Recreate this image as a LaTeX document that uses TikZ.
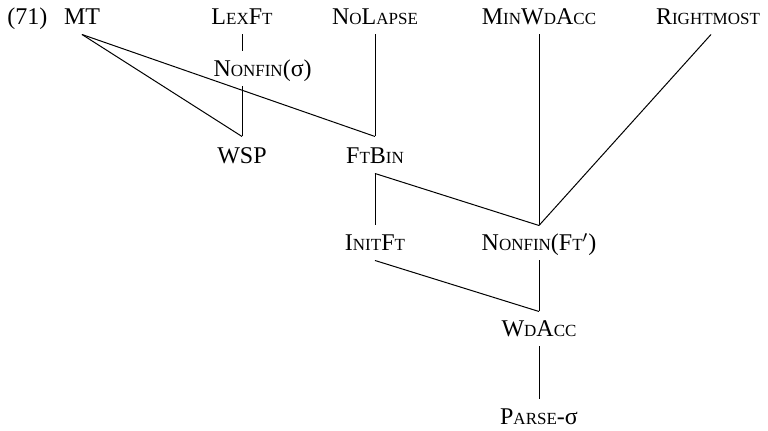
\documentclass[tikz,border=0pt]{standalone}
\usepackage{fontspec}
\setmainfont{Liberation Serif}
\newcommand{\sce}[1]{{\fontsize{8.5pt}{10pt}\selectfont #1}}
\begin{document}
\begin{tikzpicture}[x=0.5pt, y=-0.5pt, line width=0.5pt,
                con/.style={inner xsep=0pt, inner ysep=4.5pt, text height=8pt, text depth=0pt, font=\fontsize{12pt}{14pt}\selectfont}]
                \useasboundingbox (0,0) rectangle (768,431);
                % top row
                \node[con, anchor=base west] (exnum) at (7,25) {(71)};
                \node[con, anchor=base] (mt) at (82,25) {MT};
                \node[con, anchor=base] (lexft) at (242,25) {L\sce{EX}F\sce{T}};
                \node[con, anchor=base] (nolapse) at (375,25) {N\sce{O}L\sce{APSE}};
                \node[con, anchor=base] (minwdacc) at (539,25) {M\sce{IN}W\sce{D}A\sce{CC}};
                \node[con, anchor=base] (rightmost) at (708,25) {R\sce{IGHTMOST}};
                \node[con, anchor=base west] (nonfinsyl) at (213,77) {N\sce{ONFIN}(σ)};
                % lower rows
                \node[con, anchor=base] (wsp) at (242,164) {WSP};
                \node[con, anchor=base] (ftbin) at (375,164) {F\sce{T}B\sce{IN}};
                \node[con, anchor=base] (initft) at (375,251) {I\sce{NIT}F\sce{T}};
                \node[con, anchor=base] (nonfinft) at (539,251) {N\sce{ONFIN}(F\sce{T}$'$)};
                \node[con, anchor=base] (wdacc) at (539,337) {W\sce{D}A\sce{CC}};
                \node[con, anchor=base] (parse) at (539,425) {P\sce{ARSE}-σ};
                % rankings
                \draw (mt.south) -- ([yshift=1pt]wsp.north);
                \draw (mt.south) -- ([yshift=1pt]ftbin.north);
                \draw (lexft.south) -- (lexft.south |- nonfinsyl.north);
                \draw (nonfinsyl.south -| wsp) -- ([yshift=1pt]wsp.north);
                \draw (nolapse.south) -- ([yshift=1pt]ftbin.north);
                \draw (ftbin.south) -- (initft.north);
                \draw (ftbin.south) -- (nonfinft.north);
                \draw (minwdacc.south) -- (nonfinft.north);
                \draw ([xshift=1.5pt]rightmost.south) -- (nonfinft.north);
                \draw (initft.south) -- (wdacc.north);
                \draw (nonfinft.south) -- (wdacc.north);
                \draw (wdacc.south) -- (parse.north);
            \end{tikzpicture}
\end{document}
